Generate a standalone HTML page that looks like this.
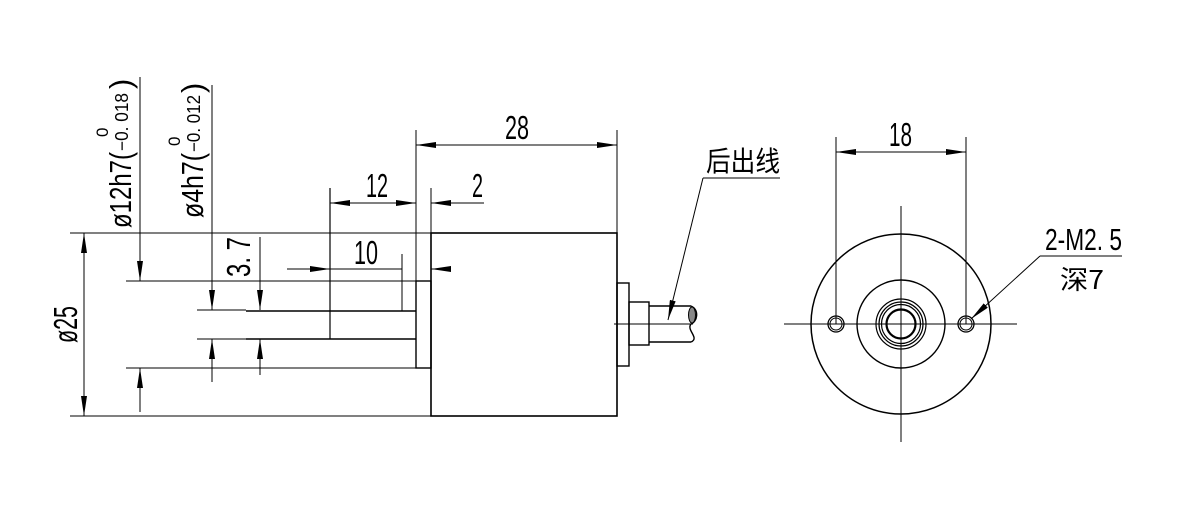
<!DOCTYPE html>
<html><head><style>html,body{margin:0;padding:0;background:#fff}svg{display:block}</style></head>
<body>
<svg width="1184" height="509" viewBox="0 0 1184 509" xmlns="http://www.w3.org/2000/svg" font-family="'Liberation Sans','Noto Sans CJK SC',sans-serif">
<defs>
<marker id="a" viewBox="0 0 20 6" refX="20" refY="3" markerWidth="20" markerHeight="6" markerUnits="userSpaceOnUse" orient="auto-start-reverse"><path d="M0,0 L20,3 L0,6 Z" fill="#000"/></marker>
</defs>
<g stroke="#000" fill="none" stroke-width="1">
<line x1="70" y1="233" x2="431" y2="233"/>
<line x1="70" y1="416" x2="431" y2="416"/>
<line x1="126" y1="281" x2="416" y2="281"/>
<line x1="126" y1="368" x2="416" y2="368"/>
<line x1="197" y1="310" x2="246" y2="310"/>
<line x1="197" y1="339" x2="246" y2="339"/>
<line x1="84" y1="233" x2="84" y2="416" marker-start="url(#a)" marker-end="url(#a)"/>
<line x1="140" y1="77" x2="140" y2="281" marker-end="url(#a)"/>
<line x1="140" y1="412" x2="140" y2="368" marker-end="url(#a)"/>
<line x1="212" y1="85" x2="212" y2="310" marker-end="url(#a)"/>
<line x1="212" y1="382" x2="212" y2="339" marker-end="url(#a)"/>
<line x1="260" y1="237" x2="260" y2="310" marker-end="url(#a)"/>
<line x1="260" y1="375" x2="260" y2="339" marker-end="url(#a)"/>
<line x1="246" y1="311" x2="416" y2="311" stroke-width="1.4"/>
<line x1="246" y1="339" x2="416" y2="339" stroke-width="1.4"/>
<line x1="330" y1="188" x2="330" y2="339" stroke-width="1.2"/>
<line x1="402" y1="254" x2="402" y2="311"/>
<rect x="416" y="281" width="15" height="87" stroke-width="1.4"/>
<line x1="416" y1="130" x2="416" y2="281"/>
<line x1="431" y1="188" x2="431" y2="233"/>
<rect x="431" y="233" width="186" height="183" stroke-width="1.6"/>
<line x1="617" y1="130" x2="617" y2="233"/>
<line x1="330" y1="203" x2="416" y2="203" marker-start="url(#a)" marker-end="url(#a)"/>
<line x1="484" y1="203" x2="431" y2="203" marker-end="url(#a)"/>
<line x1="287" y1="269" x2="330" y2="269" marker-end="url(#a)"/>
<line x1="330" y1="269" x2="402" y2="269"/>
<line x1="445" y1="269" x2="431" y2="269" marker-end="url(#a)"/>
<line x1="416" y1="145" x2="617" y2="145" marker-start="url(#a)" marker-end="url(#a)"/>
<rect x="617" y="283" width="12" height="83" stroke-width="1.4"/>
<rect x="629" y="302" width="20" height="43" stroke-width="1.4"/>
<path d="M649,306 H691 M649,342 H691" stroke-width="1.4"/>
<path d="M691,306 C700,310 697,322 691,324 C686,330 700,338 691,342" stroke-width="1.4"/>
<ellipse cx="692" cy="315" rx="3.5" ry="8" fill="#888" stroke-width="1"/>
<line x1="614" y1="324" x2="693" y2="324"/>
<line x1="780" y1="178" x2="703" y2="178"/>
<line x1="703" y1="178" x2="668" y2="320" marker-end="url(#a)"/>
<line x1="784" y1="324" x2="1017" y2="324"/>
<line x1="901" y1="206" x2="901" y2="442"/>
<circle cx="901" cy="324" r="90" stroke-width="1.5"/>
<circle cx="901" cy="324" r="44" stroke-width="1.4"/>
<circle cx="901" cy="324" r="25" stroke-width="1.2"/>
<circle cx="901" cy="324" r="22" stroke-width="1.2"/>
<circle cx="901" cy="324" r="19.5" stroke-width="1.2"/>
<circle cx="901" cy="324" r="14.5" stroke-width="2.2"/>
<circle cx="836" cy="324" r="8" stroke-width="1.3"/>
<circle cx="836" cy="324" r="6" stroke-width="1"/>
<circle cx="966" cy="324" r="8" stroke-width="1.3"/>
<circle cx="966" cy="324" r="6" stroke-width="1"/>
<line x1="836" y1="137" x2="836" y2="324"/>
<line x1="966" y1="137" x2="966" y2="324"/>
<line x1="836" y1="152" x2="966" y2="152" marker-start="url(#a)" marker-end="url(#a)"/>
<line x1="1122" y1="256" x2="1040" y2="256"/>
<line x1="1040" y1="256" x2="971" y2="319" marker-end="url(#a)"/>
</g>
<g fill="#000" font-size="33">
<text x="366" y="197" textLength="22" lengthAdjust="spacingAndGlyphs">12</text>
<text x="472" y="197" textLength="11" lengthAdjust="spacingAndGlyphs">2</text>
<text x="354" y="264" textLength="24" lengthAdjust="spacingAndGlyphs">10</text>
<text x="505" y="139" textLength="24" lengthAdjust="spacingAndGlyphs">28</text>
<text x="889" y="146" textLength="23" lengthAdjust="spacingAndGlyphs">18</text>
<text x="706" y="171" font-size="28" textLength="74" lengthAdjust="spacingAndGlyphs" font-family="'Noto Sans CJK SC',sans-serif">后出线</text>
<text x="1045" y="250" font-size="31" textLength="77" lengthAdjust="spacingAndGlyphs">2-M2. 5</text>
<text x="1060" y="289" font-size="26" textLength="44" lengthAdjust="spacingAndGlyphs" font-family="'Noto Sans CJK SC',sans-serif">深7</text>
<text transform="translate(77,343) rotate(-90)" textLength="37" lengthAdjust="spacingAndGlyphs">ø25</text>
<text transform="translate(250,277) rotate(-90)" textLength="40" lengthAdjust="spacingAndGlyphs">3. 7</text>
<g transform="translate(131,228) rotate(-90)">
<text x="0" y="0" font-size="31" textLength="76" lengthAdjust="spacingAndGlyphs">ø12h7(</text>
<text x="77" y="-3" font-size="18" textLength="58" lengthAdjust="spacingAndGlyphs">−0. 018</text>
<text x="91" y="-23" font-size="17">0</text>
<text x="139" y="0" font-size="31">)</text>
</g>
<g transform="translate(203,218) rotate(-90)">
<text x="0" y="0" font-size="31" textLength="65" lengthAdjust="spacingAndGlyphs">ø4h7(</text>
<text x="66" y="-3" font-size="18" textLength="57" lengthAdjust="spacingAndGlyphs">−0. 012</text>
<text x="72" y="-23" font-size="17">0</text>
<text x="125" y="0" font-size="31">)</text>
</g>
</g>
</svg>
</body></html>
